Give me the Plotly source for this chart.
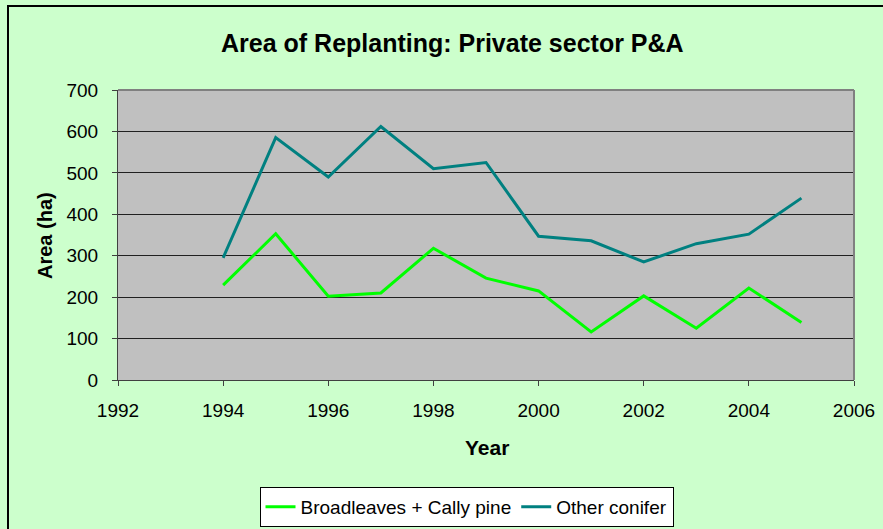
import plotly.graph_objects as go

years = [1994, 1995, 1996, 1997, 1998, 1999, 2000, 2001, 2002, 2003, 2004, 2005]
broadleaves = [229, 353, 202, 210, 318, 246, 215, 116, 203, 125, 222, 139]
other_conifer = [295, 585, 490, 612, 510, 525, 347, 336, 285, 329, 352, 439]
x_ticks = [1992, 1994, 1996, 1998, 2000, 2002, 2004, 2006]
y_ticks = [0, 100, 200, 300, 400, 500, 600, 700]

FONT = "Liberation Sans, Arial, sans-serif"

W, H = 883, 529
PL, PR, PT, PB = 118, 854, 90, 380  # plot area in pixels
PW, PH = PR - PL, PB - PT


def px(x):
    return (x - PL) / PW


def py(y):
    return (PB - y) / PH


fig = go.Figure()
fig.add_trace(go.Scatter(x=years, y=broadleaves, mode="lines",
                         name="Broadleaves + Cally pine",
                         line=dict(color="#00FF00", width=3)))
fig.add_trace(go.Scatter(x=years, y=other_conifer, mode="lines",
                         name="Other conifer",
                         line=dict(color="#008080", width=3)))

fig.update_layout(
    width=W, height=H,
    margin=dict(l=PL, r=W - PR, t=PT, b=H - PB, autoexpand=False),
    paper_bgcolor="#CCFFCC",
    plot_bgcolor="#C0C0C0",
    font=dict(family=FONT, size=19, color="black"),
    showlegend=True,
    legend=dict(orientation="h", xref="container", yref="container",
                x=466.5 / W, xanchor="center", y=1 - 487 / H, yanchor="top",
                bgcolor="white", bordercolor="black", borderwidth=1,
                font=dict(family=FONT, size=19, color="black"),
                tracegroupgap=0),
    xaxis=dict(range=[1992, 2006], tickvals=x_ticks, ticktext=[str(v) for v in x_ticks],
               showgrid=False, zeroline=False, showline=True, linecolor="#404040", linewidth=1,
               ticks="outside", ticklen=5, tickcolor="#404040", ticklabelstandoff=8,
               tickfont=dict(size=19, family=FONT), automargin=False),
    yaxis=dict(range=[0, 700], tickvals=y_ticks,
               showgrid=True, gridcolor="#202020", gridwidth=1, zeroline=False,
               showline=True, linecolor="#404040", linewidth=1,
               ticks="outside", ticklen=5, tickcolor="#404040", ticklabelstandoff=10,
               tickfont=dict(size=19, family=FONT), automargin=False),
    annotations=[
        dict(text="<b>Area of Replanting: Private sector P&A</b>", xref="paper", yref="paper",
             x=px(452.5), y=py(43), showarrow=False, font=dict(size=25, family=FONT),
             xanchor="center", yanchor="middle"),
        dict(text="<b>Year</b>", xref="paper", yref="paper", x=px(487), y=py(447),
             showarrow=False, font=dict(size=21, family=FONT), xanchor="center", yanchor="middle"),
        dict(text="<b>Area (ha)</b>", xref="paper", yref="paper", x=px(45), y=py(236),
             showarrow=False, font=dict(size=20, family=FONT), textangle=-90,
             xanchor="center", yanchor="middle"),
    ],
    shapes=[
        dict(type="line", xref="paper", yref="paper", x0=1, x1=1, y0=0, y1=1,
             line=dict(color="#808080", width=2)),
        dict(type="line", xref="paper", yref="paper", x0=0, x1=1, y0=1, y1=1,
             line=dict(color="#808080", width=2)),
        dict(type="rect", xref="paper", yref="paper",
             x0=px(8), x1=px(900), y0=py(545), y1=py(6),
             line=dict(color="black", width=2), layer="below"),
    ],
)

fig.write_html("out.html", config={"displayModeBar": False},
               post_script="document.body.style.margin='0';document.body.style.overflow='hidden';")
